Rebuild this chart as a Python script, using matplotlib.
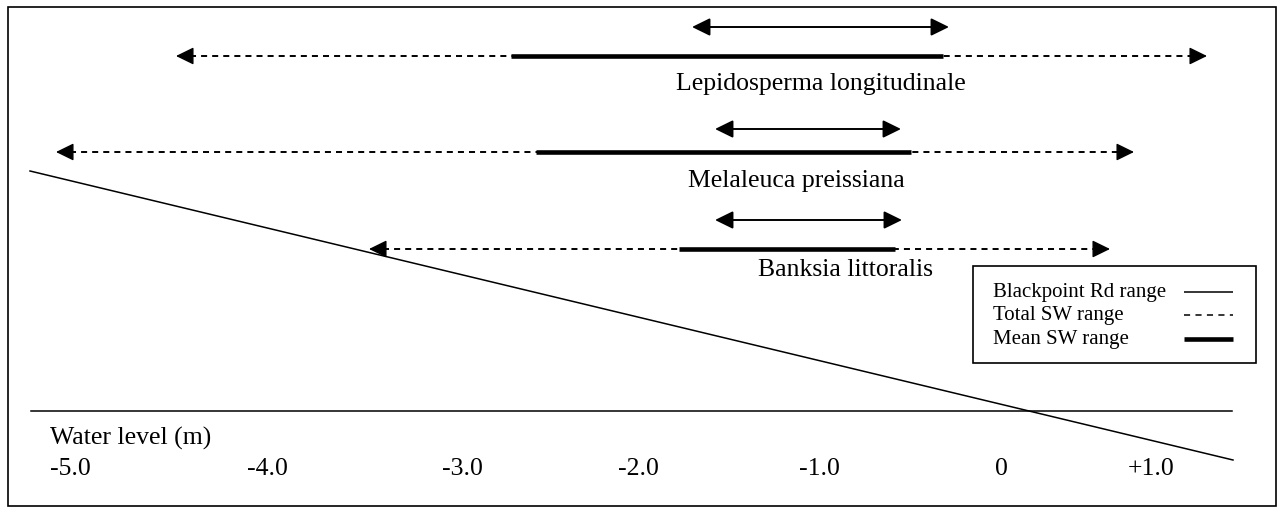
import matplotlib
matplotlib.use('Agg')
import matplotlib.pyplot as plt
from matplotlib.patches import Rectangle

plt.rcParams['font.family'] = ['Liberation Serif', 'DejaVu Serif']

# species rows (horizontal positions in drawing units, 0..1281)
species = ['Lepidosperma longitudinale', 'Melaleuca preissiana', 'Banksia littoralis']
total_lo = [176, 56, 369]
total_hi = [1207, 1134, 1110]
mean_lo = [511, 536, 679]
mean_hi = [943, 911, 895]
bp_lo = [692, 715, 715]
bp_hi = [949, 901, 902]
row_y = [57, 153, 250]
bp_y = [28, 130, 221]
name_x = [676, 688, 758]
name_y = [84, 181, 270]

# water level scale
tick_labels = ['-5.0', '-4.0', '-3.0', '-2.0', '-1.0', '0', '+1.0']
tick_x = [50, 247, 442, 618, 799, 995, 1128]

# Blackpoint Rd profile
profile_x = [30, 1233]
profile_y = [172, 461]

fig = plt.figure(figsize=(12.81, 5.10), dpi=100)
ax = fig.add_axes([0, 0, 1, 1])
ax.set_xlim(0, 1281)
ax.set_ylim(510, 0)
ax.axis('off')

# outer frame
ax.add_patch(Rectangle((8, 8), 1268, 499, fill=False, lw=1.2, ec='black'))

dash = (0, (3.1, 2.6))
hl, hw = 11, 5.4   # arrow head in points
fs = 18.5


def head(x, y, direction):
    # short solid segment hidden under the triangle head
    ax.annotate('', xy=(x, y), xytext=(x - direction * 14, y),
                arrowprops=dict(arrowstyle='-|>,head_length=%s,head_width=%s' % (hl, hw),
                                mutation_scale=1, lw=1, color='black',
                                shrinkA=0, shrinkB=0))


for i in range(len(species)):
    y = row_y[i]
    # total SW range (dashed)
    ax.plot([total_lo[i] + 14, total_hi[i] - 14], [y, y], color='black', lw=1.4, ls=dash)
    head(total_lo[i], y, -1)
    head(total_hi[i], y, 1)
    # mean SW range (thick)
    ax.plot([mean_lo[i], mean_hi[i]], [y, y], color='black', lw=3.3, solid_capstyle='butt')
    # Blackpoint Rd range (double arrow)
    ax.annotate('', xy=(bp_hi[i], bp_y[i]), xytext=(bp_lo[i], bp_y[i]),
                arrowprops=dict(arrowstyle='<|-|>,head_length=%s,head_width=%s' % (hl, hw),
                                mutation_scale=1, lw=1.4, color='black',
                                shrinkA=0, shrinkB=0))
    ax.text(name_x[i], name_y[i], species[i], fontsize=fs, ha='left', va='center')

# ground profile and water level axis
ax.plot(profile_x, profile_y, color='black', lw=1.1)
ax.plot([31, 1232], [412, 412], color='black', lw=1.1)
ax.text(50, 438, 'Water level (m)', fontsize=fs, ha='left', va='center')
for lab, x in zip(tick_labels, tick_x):
    ax.text(x, 469, lab, fontsize=fs, ha='left', va='center')

# legend box
ax.add_patch(Rectangle((973, 267), 283, 97, fill=False, lw=1.2, ec='black'))
leg_text = ['Blackpoint Rd range', 'Total SW range', 'Mean SW range']
leg_y = [293, 316, 340]
leg_lw = [1.1, 1.1, 3.3]
leg_ls = ['-', (0, (4, 3.5)), '-']
for t, y, lw, ls in zip(leg_text, leg_y, leg_lw, leg_ls):
    ax.text(993, y, t, fontsize=15, ha='left', va='center')
    ax.plot([1184, 1233], [y, y], color='black', lw=lw, ls=ls, solid_capstyle='butt')

fig.savefig('out.png', dpi=100)
